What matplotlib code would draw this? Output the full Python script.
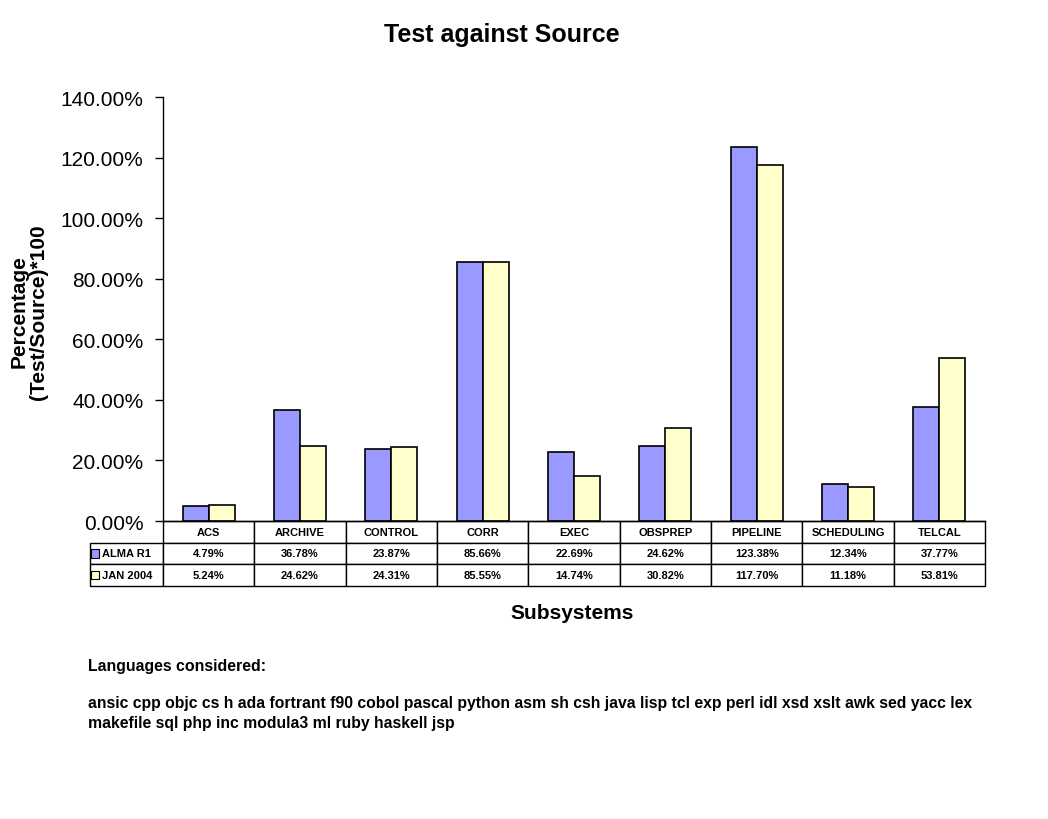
import matplotlib
matplotlib.use("Agg")
import matplotlib.pyplot as plt
from matplotlib.table import Table
from matplotlib.patches import Rectangle
from matplotlib.ticker import FuncFormatter
import numpy as np

plt.rcParams['font.family'] = ['Liberation Sans', 'DejaVu Sans']

subsystems = ["ACS", "ARCHIVE", "CONTROL", "CORR", "EXEC", "OBSPREP",
              "PIPELINE", "SCHEDULING", "TELCAL"]
series_names = ["ALMA R1", "JAN 2004"]
alma_r1 = [4.79, 36.78, 23.87, 85.66, 22.69, 24.62, 123.38, 12.34, 37.77]
jan_2004 = [5.24, 24.62, 24.31, 85.55, 14.74, 30.82, 117.70, 11.18, 53.81]
series_colors = ["#9999FF", "#FFFFCC"]
languages = ("ansic cpp objc cs h ada fortrant f90 cobol pascal python asm sh csh java lisp tcl exp perl idl xsd xslt awk sed yacc lex\n"
             "makefile sql php inc modula3 ml ruby haskell jsp")

fig = plt.figure(figsize=(10.48, 8.2), dpi=100)
ax = fig.add_axes([163 / 1048, 1 - 522 / 820, 822 / 1048, 424 / 820])

x = np.arange(len(subsystems))
w = 0.285
ax.bar(x - w / 2, alma_r1, w, color=series_colors[0], edgecolor="black", linewidth=1.2)
ax.bar(x + w / 2, jan_2004, w, color=series_colors[1], edgecolor="black", linewidth=1.2)

ax.set_xlim(-0.5, len(subsystems) - 0.5)
ax.set_ylim(0, 140)
ax.set_yticks(np.arange(0, 141, 20))
ax.yaxis.set_major_formatter(FuncFormatter(lambda v, p: f"{v:.2f}%"))
ax.tick_params(axis="y", labelsize=15, length=6, width=1, direction="out", pad=8)
ax.set_xticks([])
for s in ["top", "right"]:
    ax.spines[s].set_visible(False)
ax.spines["left"].set_linewidth(1)
ax.spines["bottom"].set_linewidth(1)

# data table under the axes
lab_w = 73 / 822
row_h = 65 / 424 / 3
col_w = 1 / len(subsystems)
tab = Table(ax, bbox=[-lab_w, -3 * row_h, 1 + lab_w, 3 * row_h])
c = tab.add_cell(0, 0, lab_w, row_h, text="")
c.visible_edges = ""
for j, name in enumerate(subsystems):
    tab.add_cell(0, j + 1, col_w, row_h, text=name, loc="center")
for i, (nm, vals) in enumerate(zip(series_names, [alma_r1, jan_2004])):
    c = tab.add_cell(i + 1, 0, lab_w, row_h, text=nm, loc="left")
    c.PAD = 0.16
    for j, v in enumerate(vals):
        tab.add_cell(i + 1, j + 1, col_w, row_h, text=f"{v:.2f}%", loc="center")
tab.auto_set_font_size(False)
tab.set_fontsize(8)
for cell in tab.get_celld().values():
    cell.set_linewidth(1)
    cell.get_text().set_fontweight("bold")
ax.add_table(tab)

for i, col in enumerate(series_colors):
    yc = -(i + 1.5) * row_h
    ax.add_patch(Rectangle((-0.0876, yc - 0.0095), 0.0097, 0.019, transform=ax.transAxes,
                           facecolor=col, edgecolor="black", linewidth=0.8, clip_on=False))

fig.text(502 / 1048, 1 - 35 / 820, "Test against Source", ha="center", va="center",
         fontsize=18, fontweight="bold")
fig.text(29 / 1048, 1 - 312 / 820, "Percentage\n(Test/Source)*100", rotation=90,
         ha="center", va="center", multialignment="center", fontsize=15,
         fontweight="bold", linespacing=1.05)
fig.text(572 / 1048, 1 - 614 / 820, "Subsystems", ha="center", va="center",
         fontsize=15, fontweight="bold")
fig.text(88 / 1048, 1 - 666 / 820, "Languages considered:", ha="left", va="center",
         fontsize=11.4, fontweight="bold")
fig.text(88 / 1048, 1 - 696 / 820, languages, ha="left", va="top",
         fontsize=11.35, fontweight="bold", linespacing=1.4)

fig.savefig("out.png", dpi=100)
